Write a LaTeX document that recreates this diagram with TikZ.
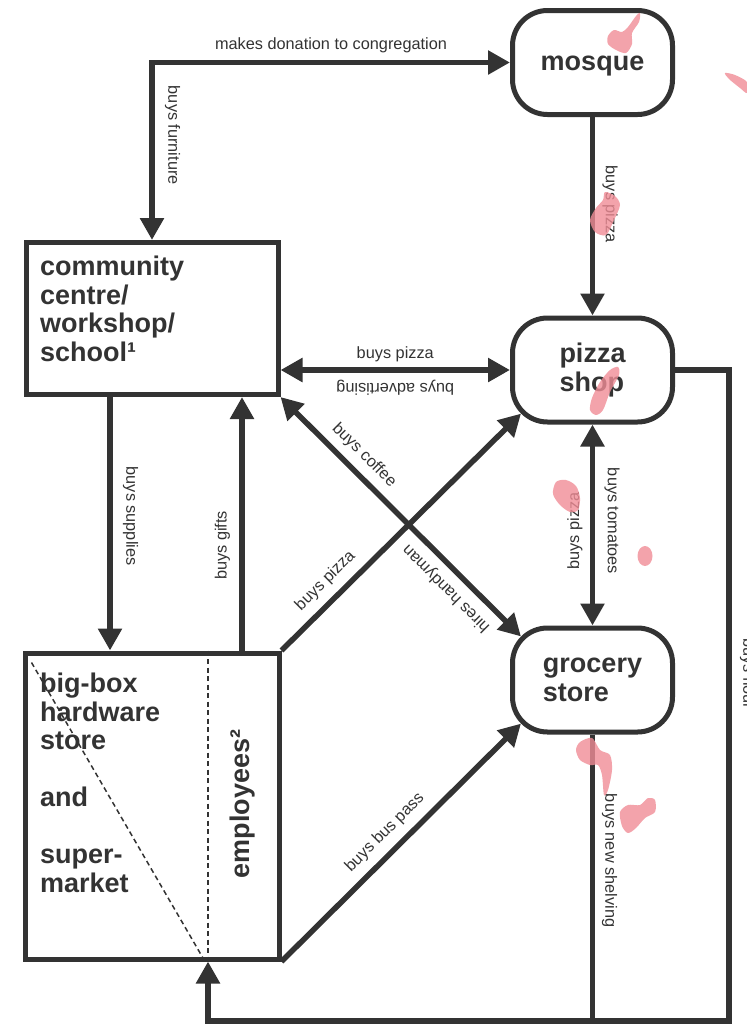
\documentclass[tikz,border=0pt]{standalone}
\usepackage{fontspec}
\setmainfont{Liberation Sans}
\usetikzlibrary{arrows.meta,positioning}
\definecolor{ink}{HTML}{333333}
\definecolor{stain}{HTML}{F08C96}

\begin{document}
\begin{tikzpicture}[x=1pt, y=-1pt, >={Triangle[length=22pt,width=23pt]},
    shop/.style={draw=ink, line width=5pt, rounded corners=35pt, minimum width=160pt,
      minimum height=104pt, align=left, text=ink, font=\fontsize{27}{29}\selectfont\bfseries},
    hall/.style={draw=ink, line width=5pt, inner sep=0pt},
    words/.style={anchor=north west, inner sep=0pt, align=left, text=ink,
      font=\fontsize{27}{28.5}\selectfont\bfseries},
    flow/.style={draw=ink, line width=5.5pt},
    tag/.style={anchor=south, inner sep=0pt, outer sep=11pt, text=ink, font=\fontsize{16.3}{19}\selectfont},
    split/.style={draw=ink, line width=1.5pt, dash pattern=on 5pt off 3.5pt},
    blot/.style={fill=stain, fill opacity=0.8}]

\useasboundingbox (0,0) rectangle (747,1026);

\node[shop, text height=19pt, text depth=4pt] (mosque) at (592.5,62.5) {mosque};
\node[shop] (pizza) at (592.5,370) {pizza\\shop};
\node[shop] (grocery) at (592.5,680) {grocery\\store};
\node[hall, minimum width=252pt, minimum height=152pt] (cc) at (152,318.5) {};
\node[hall, minimum width=254pt, minimum height=306pt] (bb) at (152,806) {};
\node[words] (cctext) at (40,256) {community\\centre/\\workshop/\\school¹};
\node[words] (bbtext) at (40,673) {big-box\\hardware\\store\\[28.5pt]and\\[28.5pt]super-\\market};
\node[inner sep=0pt, rotate=90, text=ink, font=\fontsize{27}{29}\selectfont\bfseries] (emp)
    at ([xshift=91pt,yshift=2pt]bb.center) {employees²};
\coordinate (rim) at (729,1021);

\draw[split] ([xshift=56pt]bb.north) -- ([xshift=56pt]bb.south);
\draw[split] ([shift={(9pt,-12pt)}]bb.north west) -- ([xshift=53pt]bb.south);

\draw[flow,<->] (cc.north) -- node[tag, rotate=-90, pos=0.59, outer sep=13pt] {buys furniture}
    (cc.north |- mosque.west) -- node[tag, outer sep=9.5pt] {makes donation to congregation} (mosque.west);
\draw[flow,->] (mosque.south) -- node[tag, rotate=-90, pos=0.44, outer sep=10pt] {buys pizza} (pizza.north);
\draw[flow,<->] (cc.east |- pizza.west) -- node[tag, outer sep=8pt] {buys pizza}
    node[tag, rotate=180, outer sep=10pt] {buys advertising} (pizza.west);
\draw[flow,<->] (pizza.south) -- node[tag, rotate=90, pos=0.53, outer sep=10pt] {buys pizza}
    node[tag, rotate=-90, pos=0.48, outer sep=12pt] {buys tomatoes} (grocery.north);
\draw[flow,->] ([xshift=-42pt]cc.south) -- node[tag, rotate=-90, pos=0.47, outer sep=13pt] {buys supplies}
    ([xshift=-42pt]bb.north);
\draw[flow,->] ([xshift=90pt]bb.north) -- node[tag, rotate=90, pos=0.415, outer sep=12pt] {buys gifts}
    ([xshift=90pt]cc.south);
\draw[flow,->,shorten >=-15.5pt] (bb.north east) -- node[tag, rotate=45, pos=0.25] {buys pizza} (pizza.south west);
\draw[flow,<->,shorten >=-15.5pt] (cc.south east) -- node[tag, rotate=-45, pos=0.31, outer sep=10pt] {buys coffee}
    node[tag, rotate=135, pos=0.78] {hires handyman} (grocery.north west);
\draw[flow,->,shorten >=-15.5pt] (bb.south east) -- node[tag, rotate=45, pos=0.51] {buys bus pass} (grocery.south west);
\draw[flow,->] (pizza.east) -- (pizza.east -| rim) -- node[tag, rotate=-90, pos=0.467] {buys flour}
    (rim) -| ([xshift=56pt]bb.south);
\draw[flow] (grocery.south) -- node[tag, rotate=-90, pos=0.44, outer sep=9.5pt] {buys new shelving} (grocery.south |- rim);

\fill[blot] plot[smooth cycle] coordinates {(608,36) (614,30) (622,32) (628,27) (636,16) (640,13) (639,22) (632,33) (632,44) (626,53) (616,50) (608,44)};
\fill[blot] plot[smooth cycle] coordinates {(725,73) (735,75) (747,82) (747,93) (740,88) (729,79)};
\fill[blot] plot[smooth cycle] coordinates {(605,192) (615,196) (620,205) (614,220) (606,235) (595,232) (590,220) (596,208) (603,200)};
\fill[blot] plot[smooth cycle] coordinates {(610,370) (618,367) (619,375) (610,392) (603,410) (596,415) (590,410) (592,398) (600,382)};
\fill[blot] plot[smooth cycle] coordinates {(556,482) (566,480) (576,486) (580,498) (578,510) (570,512) (560,505) (553,494)};
\fill[blot] (645,556) ellipse [x radius=7.5pt, y radius=10pt];
\fill[blot] plot[smooth cycle] coordinates {(580,742) (592,738) (600,750) (610,755) (612,770) (608,790) (604,795) (602,775) (598,765) (590,765) (580,760) (576,750)};
\fill[blot] plot[smooth cycle] coordinates {(620,812) (628,805) (640,805) (648,798) (655,800) (655,812) (645,818) (636,828) (628,833) (622,826)};
\end{tikzpicture}
\end{document}
